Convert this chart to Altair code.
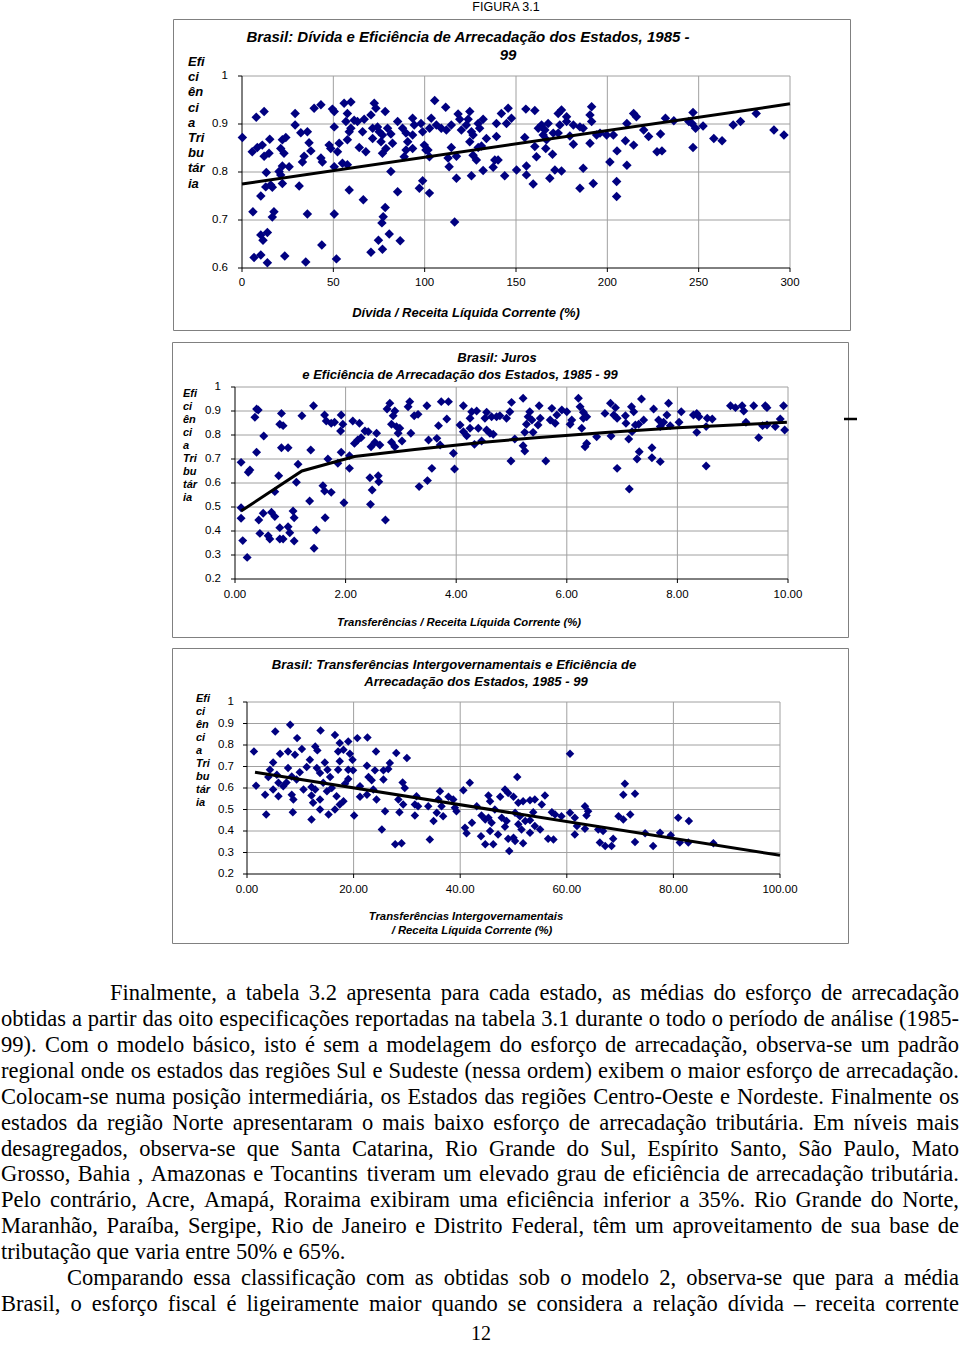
import unicodedata
import altair as alt
import pandas as pd

SANS = "Liberation Sans"
SERIF = "Liberation Serif"
NAVY = "#000080"
GRID = "#a0a0a0"
FRAME = "#808080"
PAGE_W, PAGE_H = 960, 1346

# ---------------- data: chart 1 (Dívida) ----------------
c1_points = [
    (0.2, 0.872), (7.8, 0.914), (12.1, 0.926), (5.6, 0.842), (8.4, 0.851), (11.1, 0.856), (15.2, 0.868),
    (12.1, 0.833), (14.8, 0.839), (13.3, 0.799), (22.1, 0.867), (24.0, 0.872), (21.2, 0.849), (23.0, 0.839),
    (22.1, 0.8125), (25.8, 0.811), (20.3, 0.801), (21.2, 0.794), (29.1, 0.922), (29.1, 0.898), (32.2, 0.882),
    (35.8, 0.884), (36.7, 0.861), (37.7, 0.844), (34.0, 0.833), (33.1, 0.821), (39.5, 0.933), (43.2, 0.940),
    (49.5, 0.931), (50.5, 0.926), (50.5, 0.894), (43.2, 0.829), (44.0, 0.821), (47.7, 0.856), (48.6, 0.849),
    (53.2, 0.860), (52.3, 0.842), (50.5, 0.811), (55.0, 0.818), (57.7, 0.815), (55.9, 0.943), (59.6, 0.946),
    (57.7, 0.922), (56.9, 0.905), (59.6, 0.891), (58.7, 0.884), (57.7, 0.867), (61.4, 0.908), (63.2, 0.905),
    (66.0, 0.884), (64.2, 0.851), (67.8, 0.842), (66.9, 0.910), (70.6, 0.919), (72.4, 0.943), (73.3, 0.933),
    (71.5, 0.891), (74.2, 0.894), (71.5, 0.870), (75.1, 0.884), (76.9, 0.877), (76.1, 0.863), (78.4, 0.926),
    (78.8, 0.849), (76.9, 0.839), (79.7, 0.891), (81.5, 0.879), (82.4, 0.860), (81.5, 0.801), (85.2, 0.905),
    (87.9, 0.891), (89.8, 0.881), (90.7, 0.863), (89.8, 0.846), (88.8, 0.832), (93.4, 0.912), (94.3, 0.898),
    (93.4, 0.877), (93.4, 0.849), (98.0, 0.901), (98.9, 0.884), (99.8, 0.856), (100.7, 0.846), (102.6, 0.832),
    (13.0, 0.769), (15.7, 0.773), (16.6, 0.768), (22.1, 0.776), (31.3, 0.771), (10.3, 0.750), (58.7, 0.7625),
    (66.4, 0.742), (85.2, 0.759), (97.1, 0.766), (98.9, 0.782), (102.6, 0.756), (6.0, 0.717), (17.5, 0.717),
    (16.6, 0.706), (35.8, 0.7125), (50.5, 0.7125), (78.4, 0.726), (77.3, 0.707), (76.6, 0.694), (10.3, 0.669),
    (13.9, 0.674), (11.5, 0.658), (80.6, 0.671), (74.7, 0.658), (86.6, 0.657), (43.7, 0.648), (76.9, 0.639),
    (70.6, 0.633), (6.6, 0.622), (10.3, 0.627), (13.9, 0.611), (23.4, 0.625), (34.9, 0.6125), (51.7, 0.619),
    (105.5, 0.949), (111.5, 0.935), (103.6, 0.912), (102.7, 0.891), (106.4, 0.898), (109.1, 0.891),
    (111.9, 0.8875), (114.6, 0.898), (118.3, 0.921), (119.2, 0.910), (124.7, 0.926), (123.8, 0.910),
    (120.1, 0.8875), (122.8, 0.898), (125.6, 0.884), (126.5, 0.877), (129.3, 0.901), (132.0, 0.910),
    (130.1, 0.891), (124.7, 0.863), (133.8, 0.870), (139.3, 0.901), (142.0, 0.922), (145.7, 0.933),
    (147.5, 0.912), (144.8, 0.901), (139.3, 0.874), (101.8, 0.846), (114.6, 0.851), (117.4, 0.833),
    (112.8, 0.829), (113.4, 0.811), (126.5, 0.835), (128.3, 0.825), (129.3, 0.851), (131.1, 0.854),
    (138.4, 0.825), (140.2, 0.825), (137.5, 0.810), (132.0, 0.803), (125.6, 0.792), (117.4, 0.787),
    (143.8, 0.792), (150.3, 0.804), (155.4, 0.931), (160.3, 0.928), (154.8, 0.872), (160.3, 0.853),
    (161.2, 0.832), (155.7, 0.8125), (155.7, 0.794), (159.4, 0.775), (162.2, 0.891), (164.0, 0.898),
    (165.8, 0.8875), (164.9, 0.877), (167.6, 0.901), (166.7, 0.867), (166.3, 0.849), (170.4, 0.881),
    (170.0, 0.837), (168.5, 0.787), (173.1, 0.922), (174.9, 0.929), (174.0, 0.898), (173.1, 0.881),
    (171.3, 0.804), (174.9, 0.802), (177.7, 0.915), (177.7, 0.905), (181.4, 0.898), (179.5, 0.875),
    (181.4, 0.858), (185.0, 0.894), (186.8, 0.891), (191.4, 0.936), (190.5, 0.919), (191.4, 0.905),
    (190.5, 0.860), (194.1, 0.877), (196.0, 0.881), (186.8, 0.808), (185.0, 0.766), (192.3, 0.776),
    (201.4, 0.821), (205.1, 0.780), (205.1, 0.749), (116.4, 0.696), (199.6, 0.877), (203.3, 0.877),
    (205.3, 0.844), (210.7, 0.814), (209.9, 0.865), (210.7, 0.901), (214.4, 0.922), (215.9, 0.915),
    (214.4, 0.856), (219.9, 0.8875), (222.6, 0.874), (229.1, 0.879), (227.2, 0.842), (229.9, 0.844),
    (231.8, 0.912), (236.4, 0.907), (244.6, 0.905), (246.9, 0.924), (246.4, 0.901), (248.3, 0.891),
    (246.9, 0.851), (252.4, 0.896), (258.3, 0.870), (262.8, 0.865), (268.9, 0.898), (272.9, 0.905),
    (281.5, 0.922), (291.2, 0.8875), (296.7, 0.877),
]
c1_trend = [(0, 0.775), (300, 0.942)]
c1_xticks = [0, 50, 100, 150, 200, 250, 300]
c1_xlabels = ["0", "50", "100", "150", "200", "250", "300"]
c1_yticks = [0.6, 0.7, 0.8, 0.9, 1.0]
c1_ylabels = ["0.6", "0.7", "0.8", "0.9", "1"]

# ---------------- data: chart 2 (Juros) ----------------
c2_points = [
    (0.11, 0.686), (0.24, 0.645), (0.27, 0.654), (0.39, 0.908), (0.36, 0.874), (0.42, 0.904), (0.52, 0.796),
    (0.39, 0.728), (0.84, 0.890), (0.81, 0.845), (0.87, 0.839), (0.84, 0.747), (0.96, 0.747), (1.14, 0.678),
    (1.21, 0.880), (1.42, 0.922), (1.37, 0.7375), (1.62, 0.883), (1.65, 0.858), (1.74, 0.849), (1.80, 0.853),
    (1.92, 0.883), (1.95, 0.845), (1.91, 0.817), (1.92, 0.728), (1.68, 0.700), (1.86, 0.682), (2.07, 0.714),
    (2.07, 0.661), (0.79, 0.630), (0.72, 0.564), (1.11, 0.603), (1.59, 0.589), (1.62, 0.567), (1.74, 0.561),
    (1.35, 0.525), (1.97, 0.518), (0.11, 0.497), (0.11, 0.453), (0.43, 0.446), (0.51, 0.474), (0.66, 0.478),
    (0.72, 0.460), (1.05, 0.483), (1.07, 0.455), (1.63, 0.455), (0.81, 0.414), (0.96, 0.418), (0.99, 0.393),
    (0.45, 0.390), (0.60, 0.380), (0.63, 0.367), (0.81, 0.367), (0.87, 0.367), (1.07, 0.358), (1.47, 0.404),
    (0.14, 0.360), (0.22, 0.290), (1.43, 0.328), (2.13, 0.858), (2.25, 0.849), (2.35, 0.817), (2.41, 0.814),
    (2.56, 0.807), (2.28, 0.789), (2.22, 0.779), (2.16, 0.765), (2.46, 0.751), (2.53, 0.770), (2.62, 0.758),
    (2.44, 0.622), (2.59, 0.630), (2.60, 0.605), (2.48, 0.571), (2.45, 0.511), (2.72, 0.446), (2.80, 0.932),
    (2.75, 0.908), (2.89, 0.900), (2.86, 0.880), (2.83, 0.845), (2.92, 0.835), (2.98, 0.828), (2.95, 0.807),
    (3.18, 0.807), (2.83, 0.770), (2.89, 0.751), (3.02, 0.775), (3.16, 0.939), (3.13, 0.918), (3.24, 0.880),
    (3.33, 0.585), (3.47, 0.922), (3.31, 0.886), (3.73, 0.939), (3.86, 0.939), (3.83, 0.867), (3.68, 0.839),
    (3.50, 0.779), (3.65, 0.786), (3.71, 0.758), (3.95, 0.724), (3.56, 0.661), (3.97, 0.658), (3.48, 0.610),
    (4.13, 0.922), (4.37, 0.900), (4.28, 0.897), (4.25, 0.870), (4.07, 0.842), (4.13, 0.814), (4.19, 0.797),
    (4.25, 0.828), (4.40, 0.828), (4.33, 0.761), (4.46, 0.775), (4.55, 0.895), (4.52, 0.870), (4.64, 0.876),
    (4.73, 0.876), (4.55, 0.821), (4.61, 0.807), (4.67, 0.803), (4.79, 0.880), (4.91, 0.870), (4.97, 0.897),
    (5.00, 0.936), (5.06, 0.783), (4.99, 0.692), (5.21, 0.953), (5.33, 0.897), (5.30, 0.876), (5.37, 0.8625),
    (5.27, 0.845), (5.24, 0.811), (5.39, 0.811), (5.50, 0.922), (5.52, 0.870), (5.48, 0.842), (5.21, 0.755),
    (5.24, 0.733), (5.62, 0.692), (5.73, 0.911), (5.82, 0.883), (5.70, 0.8625), (5.79, 0.849), (5.91, 0.904),
    (6.00, 0.897), (6.06, 0.845), (6.09, 0.8625), (6.21, 0.953), (6.24, 0.918), (6.30, 0.895), (6.36, 0.876),
    (6.30, 0.870), (6.27, 0.828), (6.36, 0.765), (6.33, 0.751), (6.54, 0.793), (6.69, 0.890), (6.79, 0.932),
    (6.88, 0.914), (6.85, 0.883), (6.91, 0.870), (6.80, 0.796), (7.06, 0.880), (7.17, 0.918), (7.21, 0.897),
    (7.07, 0.849), (7.24, 0.842), (7.35, 0.950), (7.39, 0.8625), (7.30, 0.845), (7.12, 0.783), (7.18, 0.814),
    (7.57, 0.908), (7.66, 0.8625), (7.75, 0.853), (7.84, 0.932), (7.81, 0.883), (7.69, 0.835), (7.87, 0.839),
    (7.31, 0.730), (7.54, 0.747), (7.27, 0.700), (7.54, 0.705), (7.69, 0.689), (6.91, 0.661), (7.13, 0.575),
    (8.07, 0.897), (8.03, 0.853), (8.29, 0.883), (8.35, 0.890), (8.39, 0.876), (8.35, 0.811), (8.54, 0.870),
    (8.63, 0.867), (8.52, 0.835), (8.52, 0.671), (8.96, 0.922), (9.05, 0.914), (9.17, 0.922), (9.20, 0.900),
    (9.38, 0.922), (9.59, 0.922), (9.62, 0.914), (9.24, 0.853), (9.54, 0.839), (9.62, 0.842), (9.77, 0.835),
    (9.47, 0.789), (9.92, 0.922), (9.86, 0.867), (9.94, 0.821),
]
c2_trend = [(0.11, 0.483), (1.21, 0.650), (2.16, 0.710), (3.25, 0.740), (4.5, 0.770), (5.5, 0.790),
            (6.7, 0.810), (8.0, 0.830), (9.98, 0.853)]
c2_xticks = [0, 2, 4, 6, 8, 10]
c2_xlabels = ["0.00", "2.00", "4.00", "6.00", "8.00", "10.00"]
c2_yticks = [0.2, 0.3, 0.4, 0.5, 0.6, 0.7, 0.8, 0.9, 1.0]
c2_ylabels = ["0.2", "0.3", "0.4", "0.5", "0.6", "0.7", "0.8", "0.9", "1"]

# ---------------- data: chart 3 (Transferências) ----------------
c3_points = [
    (1.3, 0.770), (1.7, 0.611), (3.4, 0.569), (3.6, 0.477), (5.3, 0.8625), (8.1, 0.894), (9.4, 0.832),
    (4.9, 0.719), (6.2, 0.759), (7.7, 0.770), (9.0, 0.755), (10.3, 0.781), (4.3, 0.685), (5.6, 0.662),
    (4.0, 0.651), (5.9, 0.624), (6.8, 0.608), (4.9, 0.593), (5.9, 0.562), (7.7, 0.693), (8.4, 0.654),
    (7.4, 0.626), (9.3, 0.639), (9.9, 0.673), (8.4, 0.569), (8.7, 0.546), (8.6, 0.4875), (10.6, 0.593),
    (11.8, 0.731), (11.2, 0.698), (12.1, 0.605), (12.8, 0.793), (13.2, 0.775), (13.8, 0.867), (13.1, 0.693),
    (13.7, 0.670), (14.6, 0.719), (15.1, 0.685), (15.6, 0.651), (14.3, 0.624), (12.8, 0.593), (12.1, 0.565),
    (12.4, 0.531), (13.7, 0.546), (15.0, 0.585), (15.9, 0.600), (13.7, 0.500), (15.3, 0.477), (12.1, 0.454),
    (16.8, 0.562), (17.4, 0.523), (16.5, 0.500), (18.1, 0.538), (16.5, 0.847), (17.4, 0.809), (19.0, 0.816),
    (18.1, 0.778), (17.1, 0.770), (19.3, 0.759), (19.8, 0.731), (17.4, 0.724), (17.1, 0.685), (19.0, 0.685),
    (19.9, 0.682), (19.0, 0.642), (18.4, 0.620), (20.1, 0.472), (20.7, 0.832), (22.6, 0.835), (22.5, 0.704),
    (22.8, 0.651), (23.4, 0.636), (21.2, 0.608), (21.2, 0.559), (22.5, 0.569), (24.2, 0.770), (24.0, 0.682),
    (25.6, 0.682), (26.8, 0.716), (26.5, 0.688), (25.6, 0.639), (23.7, 0.593), (24.3, 0.546), (25.9, 0.492),
    (25.3, 0.407), (28.0, 0.7625), (30.0, 0.739), (29.2, 0.626), (29.6, 0.600), (28.4, 0.546), (29.3, 0.523),
    (28.6, 0.4875), (27.8, 0.338), (29.0, 0.343), (31.5, 0.472), (31.5, 0.523), (31.8, 0.562), (32.1, 0.515),
    (34.0, 0.515), (36.2, 0.585), (35.9, 0.546), (36.5, 0.515), (35.6, 0.485), (36.8, 0.469), (35.0, 0.446),
    (37.8, 0.559), (38.7, 0.546), (39.0, 0.508), (39.3, 0.492), (34.3, 0.361), (40.6, 0.589), (41.8, 0.624),
    (40.9, 0.415), (41.2, 0.389), (42.2, 0.438), (43.1, 0.515), (44.0, 0.472), (44.7, 0.454), (45.3, 0.565),
    (45.6, 0.538), (45.3, 0.4615), (45.9, 0.438), (46.5, 0.500), (47.5, 0.559), (43.9, 0.376), (44.7, 0.338),
    (46.2, 0.338), (45.6, 0.400), (47.1, 0.384), (48.4, 0.593), (49.0, 0.577), (50.0, 0.559), (47.8, 0.4615),
    (48.7, 0.446), (48.4, 0.420), (49.0, 0.364), (50.0, 0.369), (49.2, 0.307), (50.7, 0.651), (50.3, 0.485),
    (50.9, 0.531), (51.8, 0.538), (51.2, 0.469), (52.2, 0.446), (50.9, 0.431), (51.5, 0.407), (50.3, 0.353),
    (51.8, 0.343), (53.1, 0.543), (54.0, 0.546), (53.7, 0.4875), (53.1, 0.450), (54.0, 0.423), (53.1, 0.392),
    (55.3, 0.523), (55.9, 0.565), (55.0, 0.407), (56.5, 0.364), (57.5, 0.361), (57.2, 0.4875), (57.8, 0.477),
    (59.0, 0.469), (60.6, 0.759), (60.6, 0.485), (61.5, 0.4615), (61.9, 0.423), (61.5, 0.384), (63.4, 0.515),
    (64.0, 0.492), (63.7, 0.472), (63.4, 0.411), (65.9, 0.407), (66.8, 0.400), (66.2, 0.346), (67.2, 0.330),
    (68.4, 0.330), (68.7, 0.364), (70.9, 0.620), (70.6, 0.569), (72.8, 0.573), (69.7, 0.469), (70.6, 0.454),
    (71.9, 0.477), (72.8, 0.349), (74.7, 0.389), (76.2, 0.330), (77.5, 0.392), (79.5, 0.380), (80.9, 0.4615),
    (82.9, 0.446), (81.2, 0.346), (82.8, 0.346), (87.5, 0.343),
]
c3_trend = [(1.5, 0.673), (100, 0.287)]
c3_xticks = [0, 20, 40, 60, 80, 100]
c3_xlabels = ["0.00", "20.00", "40.00", "60.00", "80.00", "100.00"]
c3_yticks = [0.2, 0.3, 0.4, 0.5, 0.6, 0.7, 0.8, 0.9, 1.0]
c3_ylabels = ["0.2", "0.3", "0.4", "0.5", "0.6", "0.7", "0.8", "0.9", "1"]

# ---------------- texts ----------------
figure_label = "FIGURA 3.1"
ytitle_lines = ["Efi", "ci", "ên", "ci", "a", "Tri", "bu", "tár", "ia"]
c1_title = ["Brasil: Dívida e Eficiência de Arrecadação dos Estados, 1985 -", "99"]
c1_xtitle = "Dívida / Receita Líquida Corrente (%)"
c2_title = ["Brasil: Juros", "e Eficiência de Arrecadação dos Estados, 1985 - 99"]
c2_xtitle = "Transferências / Receita Líquida Corrente (%)"
c3_title = ["Brasil: Transferências Intergovernamentais e Eficiência de",
            "Arrecadação dos Estados, 1985 - 99"]
c3_xtitle = ["Transferências Intergovernamentais", "/ Receita Líquida Corrente (%)"]
para_lines = [
    "Finalmente, a tabela 3.2 apresenta para cada estado, as médias do esforço de arrecadação",
    "obtidas a partir das oito especificações reportadas na tabela 3.1 durante o todo o período de análise (1985-",
    "99). Com o modelo básico, isto é sem a modelagem do esforço de arrecadação, observa-se um padrão",
    "regional onde os estados das regiões Sul e Sudeste (nessa ordem) exibem o maior esforço de arrecadação.",
    "Colocam-se numa posição intermediária, os Estados das regiões Centro-Oeste e Nordeste.  Finalmente os",
    "estados da região Norte apresentaram o mais baixo esforço de arrecadação tributária. Em níveis mais",
    "desagregados, observa-se que Santa Catarina, Rio Grande do Sul, Espírito Santo, São Paulo, Mato",
    "Grosso, Bahia , Amazonas e Tocantins tiveram um elevado grau de eficiência de arrecadação tributária.",
    "Pelo contrário, Acre, Amapá, Roraima exibiram uma eficiência inferior a 35%. Rio Grande do Norte,",
    "Maranhão, Paraíba, Sergipe, Rio de Janeiro e Distrito Federal, têm um aproveitamento de sua base de",
    "tributação que varia entre 50% e 65%.",
    "Comparando essa classificação com as obtidas sob o modelo 2, observa-se que para a média",
    "Brasil, o esforço fiscal é ligeiramente maior quando se considera a relação dívida – receita corrente",
]
para_indent_lines = {0: 110, 11: 67}      # first-line indents of the two paragraphs
para_ragged_lines = {10}                  # last line of a paragraph: not justified
page_number = "12"

ONE = pd.DataFrame({"k": [0]})

# Times/Liberation Serif advance widths (per 1000 em) for justified layout
_TW = {" ": 250, ".": 250, ",": 250, ":": 278, ";": 278, "(": 333, ")": 333, "-": 333, "–": 500,
       "%": 833, "a": 444, "b": 500, "c": 444, "d": 500, "e": 444, "f": 333, "g": 500, "h": 500,
       "i": 278, "j": 278, "k": 500, "l": 278, "m": 778, "n": 500, "o": 500, "p": 500, "q": 500,
       "r": 333, "s": 389, "t": 278, "u": 500, "v": 500, "w": 722, "x": 500, "y": 500, "z": 444,
       "A": 722, "B": 667, "C": 667, "D": 722, "E": 611, "F": 556, "G": 722, "H": 722, "I": 333,
       "J": 389, "K": 722, "L": 611, "M": 889, "N": 722, "O": 722, "P": 556, "Q": 722, "R": 667,
       "S": 556, "T": 611, "U": 722, "V": 722, "W": 944, "X": 722, "Y": 722, "Z": 611}
PARA_SIZE = 22.5


def text_width(s, size):
    w = 0
    for ch in s:
        base = unicodedata.normalize("NFD", ch)[0]
        w += _TW.get(base, 500)
    return w * size / 1000.0


def panel(points, trend, xticks, xlabels, yticks, ylabels, xr, yr, xdy, ydx, size):
    xdom = [xticks[0], xticks[-1]]
    ydom = [yticks[0], yticks[-1]]
    xs = alt.Scale(domain=xdom, range=xr, nice=False, zero=False)
    ys = alt.Scale(domain=ydom, range=yr, nice=False, zero=False)
    pts = pd.DataFrame(points, columns=["x", "y"])
    tr = pd.DataFrame(trend, columns=["x", "y"])
    xt = pd.DataFrame({"v": xticks, "lab": xlabels})
    yt = pd.DataFrame({"v": yticks, "lab": ylabels})

    vgrid = alt.Chart(xt.iloc[1:]).mark_rule(color=GRID, strokeWidth=1).encode(
        x=alt.X("v:Q", scale=xs, axis=None),
        y=alt.YDatum(ydom[0], scale=ys, axis=None),
        y2=alt.Y2Datum(ydom[1]),
    )
    hgrid = alt.Chart(yt.iloc[1:]).mark_rule(color=GRID, strokeWidth=1).encode(
        y=alt.Y("v:Q", scale=ys, axis=None),
        x=alt.XDatum(xdom[0], scale=xs, axis=None),
        x2=alt.X2Datum(xdom[1]),
    )
    xdomain = alt.Chart(ONE).mark_rule(color="black", strokeWidth=1).encode(
        x=alt.XDatum(xdom[0], scale=xs, axis=None), x2=alt.X2Datum(xdom[1]),
        y=alt.YDatum(ydom[0], scale=ys, axis=None))
    ydomain = alt.Chart(ONE).mark_rule(color="black", strokeWidth=1).encode(
        y=alt.YDatum(ydom[0], scale=ys, axis=None), y2=alt.Y2Datum(ydom[1]),
        x=alt.XDatum(xdom[0], scale=xs, axis=None))
    xtick = alt.Chart(xt).mark_rule(color="black", strokeWidth=1, y2Offset=4).encode(
        x=alt.X("v:Q", scale=xs, axis=None),
        y=alt.YDatum(ydom[0], scale=ys, axis=None), y2=alt.Y2Datum(ydom[0]))
    ytick = alt.Chart(yt).mark_rule(color="black", strokeWidth=1, x2Offset=-4).encode(
        y=alt.Y("v:Q", scale=ys, axis=None),
        x=alt.XDatum(xdom[0], scale=xs, axis=None), x2=alt.X2Datum(xdom[0]))
    xlab = alt.Chart(xt).mark_text(font=SANS, fontSize=11.5, color="black", align="center",
                                   baseline="middle", dy=xdy).encode(
        x=alt.X("v:Q", scale=xs, axis=None),
        y=alt.YDatum(ydom[0], scale=ys, axis=None), text="lab:N")
    ylab = alt.Chart(yt).mark_text(font=SANS, fontSize=11.5, color="black", align="right",
                                   baseline="middle", dx=ydx).encode(
        y=alt.Y("v:Q", scale=ys, axis=None),
        x=alt.XDatum(xdom[0], scale=xs, axis=None), text="lab:N")
    dots = alt.Chart(pts).mark_point(shape="diamond", filled=True, color=NAVY, opacity=1,
                                     size=size).encode(
        x=alt.X("x:Q", scale=xs, axis=None),
        y=alt.Y("y:Q", scale=ys, axis=None),
    )
    line = alt.Chart(tr).mark_line(color="black", strokeWidth=3).encode(
        x=alt.X("x:Q", scale=xs, axis=None),
        y=alt.Y("y:Q", scale=ys, axis=None),
    )
    return alt.layer(vgrid, hgrid, xdomain, ydomain, xtick, ytick, xlab, ylab, dots, line)


def frame(x1, x2, y1, y2):
    return alt.Chart(ONE).mark_rect(fillOpacity=0, stroke=FRAME, strokeWidth=1).encode(
        x=alt.value(x1), x2=alt.value(x2), y=alt.value(y1), y2=alt.value(y2))


def label(txt, x, y, size, bold=True, italic=True, align="center", baseline="middle", lh=None):
    kw = dict(text=txt, font=SANS, fontSize=size, align=align, baseline=baseline, color="black")
    if bold:
        kw["fontWeight"] = "bold"
    if italic:
        kw["fontStyle"] = "italic"
    if lh:
        kw["lineHeight"] = lh
    return alt.Chart(ONE).mark_text(**kw).encode(x=alt.value(x), y=alt.value(y))


p1 = panel(c1_points, c1_trend, c1_xticks, c1_xlabels, c1_yticks, c1_ylabels,
           [242, 790], [268, 76], 15, -14, 90)
p2 = panel(c2_points, c2_trend, c2_xticks, c2_xlabels, c2_yticks, c2_ylabels,
           [235, 788], [579, 387], 16, -14, 80)
p3 = panel(c3_points, c3_trend, c3_xticks, c3_xlabels, c3_yticks, c3_ylabels,
           [247, 780], [874, 702], 16, -13, 72)

texts = [
    label(figure_label, 506, 1, 12.5, bold=False, italic=False, baseline="top"),
    # chart 1
    label(c1_title[0], 468, 37, 15),
    label(c1_title[1], 508, 55, 15),
    label(c1_xtitle, 466, 313, 13),
    label(ytitle_lines, 188, 56, 13, align="left", baseline="top", lh=15.2),
    # chart 2
    label(c2_title[0], 497, 358, 13),
    label(c2_title[1], 460, 375, 13),
    label(c2_xtitle, 459, 623, 11.3),
    label(ytitle_lines, 183, 388, 11, align="left", baseline="top", lh=13),
    # chart 3
    label(c3_title[0], 454, 665, 13.1),
    label(c3_title[1], 476, 682, 13.1),
    label(c3_xtitle[0], 466, 917, 11.3),
    label(c3_xtitle[1], 472, 931, 11.3),
    label(ytitle_lines, 196, 693, 11, align="left", baseline="top", lh=13),
]

dash = alt.Chart(ONE).mark_rule(color="black", strokeWidth=2.5).encode(
    x=alt.value(844), x2=alt.value(857), y=alt.value(419))

# justified paragraph: one text item per word
RIGHT = 959.0
rows = []
for i, ln in enumerate(para_lines):
    words = [w for w in ln.split(" ") if w]
    x0 = para_indent_lines.get(i, 1)
    widths = [text_width(w, PARA_SIZE) for w in words]
    if i in para_ragged_lines or len(words) < 2:
        gap = text_width(" ", PARA_SIZE)
    else:
        gap = (RIGHT - x0 - sum(widths)) / (len(words) - 1)
    x = x0
    for w, wd in zip(words, widths):
        rows.append({"line": i, "word": w, "px": x})
        x += wd + gap
para_df = pd.DataFrame(rows)
para = alt.Chart(para_df).mark_text(font=SERIF, fontSize=PARA_SIZE, align="left", baseline="middle",
                                    color="black").encode(
    x=alt.X("px:Q", scale=alt.Scale(domain=[0, PAGE_W], range=[0, PAGE_W]), axis=None),
    y=alt.Y("line:Q", scale=alt.Scale(domain=[0, len(para_lines) - 1], range=[993, 1304]), axis=None),
    text="word:N",
)
pagenum = alt.Chart(ONE).mark_text(text=page_number, font=SERIF, fontSize=20, align="center",
                                   baseline="middle", color="black").encode(
    x=alt.value(481), y=alt.value(1334))

chart = alt.layer(
    frame(173.5, 850.5, 19.5, 330.5),
    frame(172.5, 848.5, 342.5, 637.5),
    frame(172.5, 848.5, 648.5, 943.5),
    p1, p2, p3, dash, para, pagenum, *texts,
).resolve_scale(x="independent", y="independent").properties(
    width=PAGE_W, height=PAGE_H, padding=0, autosize=alt.AutoSizeParams(type="none"),
    background="white",
).configure_view(strokeWidth=0)

chart.save("out.html", embed_options={"renderer": "svg", "actions": False})
